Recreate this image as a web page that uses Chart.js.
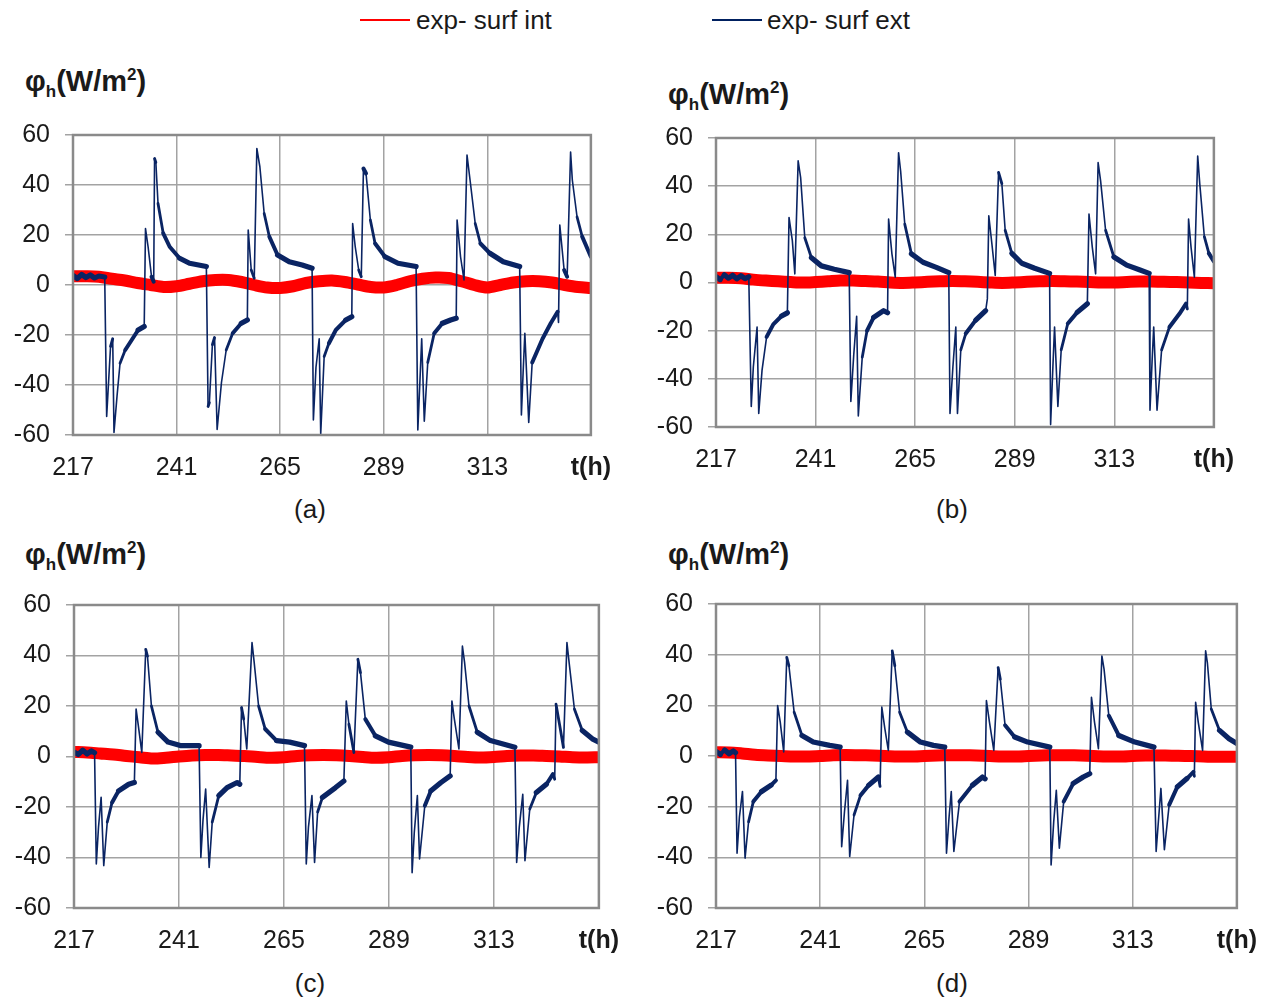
<!DOCTYPE html>
<html>
<head>
<meta charset="utf-8">
<script src="https://cdn.jsdelivr.net/npm/chart.js@4.4.1/dist/chart.umd.min.js"></script>
<style>
  body { margin: 0; width: 1277px; height: 999px; background: #fff; position: relative; overflow: hidden;
         font-family: "Liberation Sans", Arial, sans-serif; color: #1a1a1a; }
  canvas { position: absolute; }
  .leg { position: absolute; font-size: 26px; line-height: 1; white-space: nowrap; }
  .legline { position: absolute; width: 50px; height: 2px; }
  .ytitle { position: absolute; font-size: 29px; font-weight: bold; line-height: 1; white-space: nowrap; }
  .ytitle .sb { font-size: 17px; position: relative; top: 6px; }
  .ytitle .sp { font-size: 17px; position: relative; top: -11px; }
  .cap { position: absolute; width: 80px; margin-left: -40px; text-align: center; font-size: 26px; line-height: 1; }
</style>
</head>
<body>

<div class="legline" style="left:360px; top:19px; background:#ff0000;"></div>
<div class="leg" style="left:416px; top:7px;">exp- surf int</div>
<div class="legline" style="left:712px; top:19px; background:#002060;"></div>
<div class="leg" style="left:767px; top:7px;">exp- surf ext</div>

<div class="ytitle" style="left:25px; top:67px;">φ<span class="sb">h</span>(W/m<span class="sp">2</span>)</div>
<div class="ytitle" style="left:668px; top:80px;">φ<span class="sb">h</span>(W/m<span class="sp">2</span>)</div>
<div class="ytitle" style="left:25px; top:540px;">φ<span class="sb">h</span>(W/m<span class="sp">2</span>)</div>
<div class="ytitle" style="left:668px; top:540px;">φ<span class="sb">h</span>(W/m<span class="sp">2</span>)</div>

<div class="cap" style="left:310px; top:496px;">(a)</div>
<div class="cap" style="left:952px; top:496px;">(b)</div>
<div class="cap" style="left:310px; top:970px;">(c)</div>
<div class="cap" style="left:952px; top:970px;">(d)</div>

<canvas id="pa" width="629" height="380" style="left:0px; top:105px;"></canvas>
<canvas id="pb" width="609" height="369" style="left:643px; top:108px;"></canvas>
<canvas id="pc" width="636" height="383" style="left:1px; top:575px;"></canvas>
<canvas id="pd" width="632" height="384" style="left:643px; top:574px;"></canvas>

<script>
// x ticks (hours) and y ticks
const xTicks = [217, 241, 265, 289, 313, 337];
const yTicks = [-60, -40, -20, 0, 20, 40, 60];

// surf int: time grid (h) and values for each panel
const intHours = [217, 220, 223, 226, 229, 232, 235, 238, 241, 244, 247, 250, 253, 256, 259, 262, 265, 268, 271, 274,
  277, 280, 283, 286, 289, 292, 295, 298, 301, 304, 307, 310, 313, 316, 319, 322, 325, 328, 331, 334, 337];
const intA = [3.5, 3.5, 3.3, 2.5, 1.8, 0.8, 0, -0.8, -0.5, 0.5, 1.5, 2, 2, 1.2, 0, -1, -1.2, -0.5, 0.8, 1.5,
  1.8, 1.2, 0.2, -0.8, -1, 0, 1.5, 2.5, 3, 2.8, 1.5, 0, -1, 0, 1, 1.5, 1.5, 1, 0, -0.8, -1.2];
const intB = [2, 2, 1.8, 1.2, 0.8, 0.5, 0.2, 0, 0.2, 0.5, 0.8, 0.8, 0.6, 0.4, 0, -0.2, 0, 0.3, 0.5, 0.6,
  0.5, 0.3, 0, -0.2, 0, 0.3, 0.5, 0.6, 0.5, 0.4, 0.2, 0, 0, 0.2, 0.4, 0.4, 0.3, 0.2, 0, -0.2, -0.3];
const intC = [1.8, 1.6, 1.2, 0.8, 0.2, -0.3, -0.8, -0.5, 0, 0.4, 0.6, 0.6, 0.4, 0.2, -0.2, -0.5, -0.3, 0.2, 0.5, 0.6,
  0.5, 0.2, -0.2, -0.5, -0.3, 0.2, 0.5, 0.6, 0.5, 0.2, -0.2, -0.4, -0.2, 0.2, 0.4, 0.4, 0.2, 0, -0.3, -0.4, -0.3];
const intD = [1.5, 1.4, 1.0, 0.5, 0.2, 0, -0.2, -0.2, 0, 0.3, 0.4, 0.3, 0.2, 0, -0.2, -0.2, 0, 0.2, 0.3, 0.3,
  0.2, 0, -0.2, -0.2, 0, 0.2, 0.3, 0.3, 0.2, 0, -0.2, -0.2, 0, 0.2, 0.2, 0.1, 0, -0.1, -0.3, -0.3, -0.3];

// surf ext, panel (a)
const hoursA = [217, 218, 219, 220, 221, 222, 223, 224.35,
  224.8, 225.7, 226.2, 226.5, 227.2, 227.9, 229.1, 230.6, 232.1, 233.5, 233.8, 234.4, 235.2, 235.7, 235.9, 236.2, 236.7, 237.9, 239.4, 241.7, 244, 247.9,
  248.3, 248.6, 249.3, 249.8, 250.4, 251.4, 252.5, 254, 256, 257.4, 257.6, 258.3, 259, 259.6, 260.3, 261.3, 262.5, 264.4, 267.1, 270.1, 272.4,
  272.7, 273.3, 274.05, 274.4, 275.2, 276.3, 277.9, 280.2, 281.6, 281.8, 282.4, 283.2, 283.8, 284.3, 284.9, 285.9, 287, 289.3, 292.3, 296.5,
  296.9, 297.4, 297.8, 298.4, 299.2, 300.7, 302.6, 304.5, 305.8, 306, 306.8, 307.6, 308.3, 309.1, 310.2, 311.4, 313.6, 316.7, 320.5,
  320.9, 321.3, 321.7, 322.6, 323.4, 325.8, 327.7, 329.3, 329.5, 329.8, 330.8, 331.5, 332.3, 332.7, 333.8, 335, 337];
const extA = [3.8, 2.6, 4.2, 3.0, 4.0, 2.8, 3.6, 3.2,
  -52.6, -24.6, -21.5, -59, -44.5, -31.3, -26, -22, -18, -16.6, 22.6, 15.3, 3.3, 1.3, 50.6, 49, 32.6, 20.7, 15.3, 10.7, 8.7, 7.4,
  -48.6, -47, -23.9, -21, -57.8, -39, -26, -19.3, -15.3, -14, 22, 6, 2.7, 54.6, 47.3, 28.6, 19.3, 12, 9.3, 8, 6.7,
  -54, -33, -21.5, -59.5, -28.6, -23.3, -18, -14, -12.7, 24.6, 15.3, 6, 3.3, 46.6, 44.6, 26, 16.6, 11.3, 8.7, 7.4,
  -58, -38, -21.5, -54.5, -31, -19.3, -15.3, -14, -13.3, 26, 11.3, 2, 52, 40.6, 24.6, 16.6, 12.7, 9.3, 7.4,
  -52, -35, -19.3, -55, -31, -21.5, -15.3, -10.7, -15, 24, 6, 3.3, 53.2, 42, 27.2, 19.3, 11.3];

// surf ext, panel (b)
const hoursB = [217, 218, 219, 220, 221, 222, 223, 224, 224.9,
  225.5, 226, 226.9, 227.3, 228.1, 229.2, 230.8, 232.8, 234.2, 234.6, 235.4, 236, 236.8, 237.4, 238.4, 240, 242.4, 245.5, 249.1,
  249.5, 250.2, 250.9, 251.3, 252.25, 253.4, 255, 257.4, 258.35, 258.6, 259.4, 260.2, 261, 261.5, 262.5, 264.1, 266.9, 270.1, 273.1,
  273.4, 274.1, 274.8, 275.2, 276, 277.2, 279.6, 282, 282.4, 282.75, 283.5, 284.3, 285.1, 285.9, 286.7, 288.3, 290.7, 293.8, 297.4,
  297.65, 298.2, 298.6, 299.4, 300.2, 301.8, 304.1, 306.5, 306.9, 307.7, 308.5, 309.1, 309.7, 310.9, 312.9, 316, 319.2, 321.4,
  321.6, 322.1, 322.5, 323.3, 324.4, 326.3, 328.7, 330.3, 330.6, 330.9, 331.5, 332.3, 333.1, 333.6, 334.7, 335.8, 337];
const extB = [2.5, 1.2, 3.2, 1.8, 3.0, 1.5, 2.8, 1.6, 2.4,
  -51.5, -35, -18.5, -54.4, -36.4, -22.6, -17.4, -13.9, -12.6, 27, 17.4, 3.6, 50.5, 43.6, 18.6, 10.3, 6.9, 5.5, 4.1,
  -49.4, -30, -14, -55.4, -31, -20, -14.5, -11.7, -12.6, 26.3, 11.9, 2.2, 53.9, 46.3, 24.2, 11.9, 8.4, 6.3, 4.1,
  -54.4, -35, -18.5, -54.4, -28, -21.2, -15.6, -11.7, -6.8, 27.7, 16, 2.9, 45.7, 41, 21.7, 12.1, 8, 5.9, 3.8,
  -59, -35, -18.5, -51.5, -28, -17, -12.3, -8.8, 28.4, 14.6, 3.6, 49.8, 42.2, 21.7, 10.6, 7.2, 5.2, 3.8,
  -53, -33, -18.5, -53, -28, -18.5, -13, -8.8, -11, 26.3, 14.6, 2.2, 52.5, 41, 19, 12.1, 8.7];

// surf ext, panel (c)
const hoursC = [217, 218, 219, 220, 221, 221.7,
  222.1, 222.6, 223.2, 223.8, 224.6, 225.7, 227.2, 229.5, 230.8, 231.2, 231.7, 232.5, 233.4, 233.8, 234.7, 236.2, 238.5, 241.5, 245.6,
  246, 246.5, 247.1, 247.9, 248.6, 250.1, 252, 254.3, 254.9, 255.3, 255.8, 256.5, 257.7, 258.2, 259.2, 260.7, 263.3, 266.3, 269.7,
  270.1, 270.6, 271.4, 272, 272.7, 273.8, 276.8, 278.7, 279.25, 279.85, 281, 281.9, 282.5, 283.6, 285.9, 288.9, 294,
  294.3, 294.8, 295.5, 296, 297.2, 298.6, 300.9, 303, 303.4, 303.9, 305, 305.8, 306.3, 307.3, 309.2, 312.2, 317.8,
  318.2, 318.8, 319.6, 320.1, 321.2, 322.7, 325, 326.5, 326.9, 327.2, 328, 328.9, 329.7, 330.2, 331.4, 333.2, 335.5, 337];
const extC = [1.8, 0.8, 2.5, 1.0, 2.2, 1.5,
  -42.6, -28, -16.2, -43.2, -26, -18.2, -13.6, -11, -10.3, 18.8, 12.3, 1.6, 42.4, 39.7, 20, 9.6, 5.7, 4.3, 4.3,
  -40, -25, -12.9, -43.9, -26, -15.5, -12.3, -10.3, -11, 19.4, 14.8, 3, 45.1, 37.2, 20, 10.9, 6.3, 5.7, 4.3,
  -42.6, -28, -15.5, -42, -22, -16.2, -12.3, -9.7, 22, 12.8, 1.6, 38.5, 33.2, 14.8, 8.2, 5.7, 3.7,
  -46, -30, -15.5, -40.6, -19.5, -13.6, -10.3, -7.7, 22, 15.5, 3, 43.7, 37.2, 20, 9.6, 6.3, 3.7,
  -42, -28, -15, -41.3, -20.8, -14.3, -11, -7, -9, 20.7, 12.8, 3.6, 45.1, 37.2, 18.8, 10.3, 7, 5.7];

// surf ext, panel (d)
const hoursD = [217, 218, 219, 220, 221, 221.5,
  221.85, 222.4, 223.1, 223.7, 224.5, 225.6, 227.5, 229.7, 230.8, 231.2, 231.8, 232.6, 233.3, 233.8, 235, 236.8, 239.4, 243.2, 245.6,
  245.95, 246.6, 247.3, 247.8, 248.8, 250.3, 252.2, 254.4, 254.8, 255.2, 255.9, 256.7, 257.6, 258.2, 259.3, 261.1, 264.1, 267.1, 269.7,
  270.1, 270.7, 271.2, 271.8, 273.1, 276.1, 278.4, 279, 279.3, 280, 281, 282, 282.5, 283.6, 285.8, 288.8, 293.9,
  294.2, 294.8, 295.4, 296.1, 297.1, 299.3, 301.6, 303.1, 303.5, 304.2, 305.1, 305.9, 306.4, 307.5, 309.8, 313.5, 317.9,
  318.4, 319, 319.5, 320.3, 321.4, 323.3, 325.5, 327, 327.2, 327.5, 328.1, 329.1, 329.8, 330.2, 331.1, 333, 335.2, 337];
const extD = [1.8, 0.6, 2.4, 0.9, 2.0, 1.3,
  -38.4, -24, -14, -40.3, -26, -18, -14, -11.5, -9.6, 19.9, 13.4, 1.6, 38.9, 35.6, 17.3, 8.1, 5.5, 4.2, 3.5,
  -35.8, -22, -9.6, -39.7, -23.3, -15.5, -11.5, -8.3, -12, 19.3, 10.8, 2.2, 41.5, 35.6, 17.3, 9.4, 5.5, 4.2, 3.5,
  -38.4, -24, -14, -37.7, -18, -11.5, -8.3, -9, 21.9, 13.4, 2.2, 34.9, 30.3, 12.1, 7.5, 5.5, 3.5,
  -43, -26, -13.5, -36.4, -18, -10.8, -8.3, -7, 23.2, 13.4, 2.9, 39.5, 34.3, 15.9, 8.1, 5.5, 3.5,
  -37.7, -24, -12.8, -37, -19.3, -12.1, -8.9, -6.3, -8, 21.2, 13.4, 2.2, 41.5, 36.9, 18.6, 10.1, 6.8, 4.9];

Chart.defaults.font.family = "'Liberation Sans', Arial, sans-serif";
Chart.defaults.color = '#1a1a1a';

const GRID = '#a3a3a3';
const RED = '#ff0000';
const NAVY = '#0a2463';

// noisy (flat) stretches look thick, fast transitions thin
function extWidth(c) {
  const dx = Math.abs(c.p1.x - c.p0.x) || 0.01;
  const s = Math.abs(c.p1.y - c.p0.y) / dx;
  return s > 6 ? 1.6 : s > 2.5 ? 2.8 : s > 1 ? 4 : 5.2;
}

const frame = {
  id: 'frame',
  afterDraw(chart) {
    const a = chart.chartArea, ctx = chart.ctx;
    ctx.save();
    ctx.strokeStyle = '#8a8a8a';
    ctx.lineWidth = 2.5;
    ctx.strokeRect(a.left, a.top, a.right - a.left, a.bottom - a.top);
    ctx.restore();
  }
};

function pts(xs, ys) {
  return xs.map((x, i) => ({ x: x, y: ys[i] }));
}

function makePanel(id, hours, ext, intVals, padRight) {
  new Chart(document.getElementById(id), {
    type: 'line',
    data: {
      datasets: [
        { label: 'exp- surf ext', data: pts(hours, ext), borderColor: NAVY, borderWidth: 2,
          borderCapStyle: 'round', borderJoinStyle: 'round',
          segment: { borderWidth: extWidth }, pointRadius: 0, tension: 0 },
        { label: 'exp- surf int', data: pts(intHours, intVals), borderColor: RED, borderWidth: 12,
          borderJoinStyle: 'round', pointRadius: 0, tension: 0.3 }
      ]
    },
    options: {
      responsive: false,
      animation: false,
      layout: { padding: { top: 0, right: padRight, left: 0, bottom: 0 } },
      plugins: { legend: { display: false }, tooltip: { enabled: false } },
      scales: {
        x: {
          type: 'linear', min: 217, max: 337,
          afterBuildTicks: s => { s.ticks = xTicks.map(v => ({ value: v })); },
          afterFit: s => { s.height = 50; },
          grid: { color: GRID, lineWidth: 1.5, drawTicks: false },
          border: { display: false },
          ticks: {
            padding: 18,
            maxRotation: 0,
            autoSkip: false,
            callback: v => v === 337 ? 't(h)' : String(v),
            font: c => (c.tick && c.tick.value === 337) ? { size: 25, weight: 'bold' } : { size: 25 }
          }
        },
        y: {
          min: -60, max: 60,
          afterBuildTicks: s => { s.ticks = yTicks.map(v => ({ value: v })); },
          afterFit: s => { s.width = 73; },
          grid: { color: GRID, lineWidth: 1.5, tickLength: 8, tickColor: GRID },
          border: { display: false },
          ticks: { padding: 15, font: { size: 25 } }
        }
      }
    },
    plugins: [frame]
  });
}

makePanel('pa', hoursA, extA, intA, 30);
makePanel('pb', hoursB, extB, intB, 30);
makePanel('pc', hoursC, extC, intC, 30);
makePanel('pd', hoursD, extD, intD, 24);
</script>
</body>
</html>
